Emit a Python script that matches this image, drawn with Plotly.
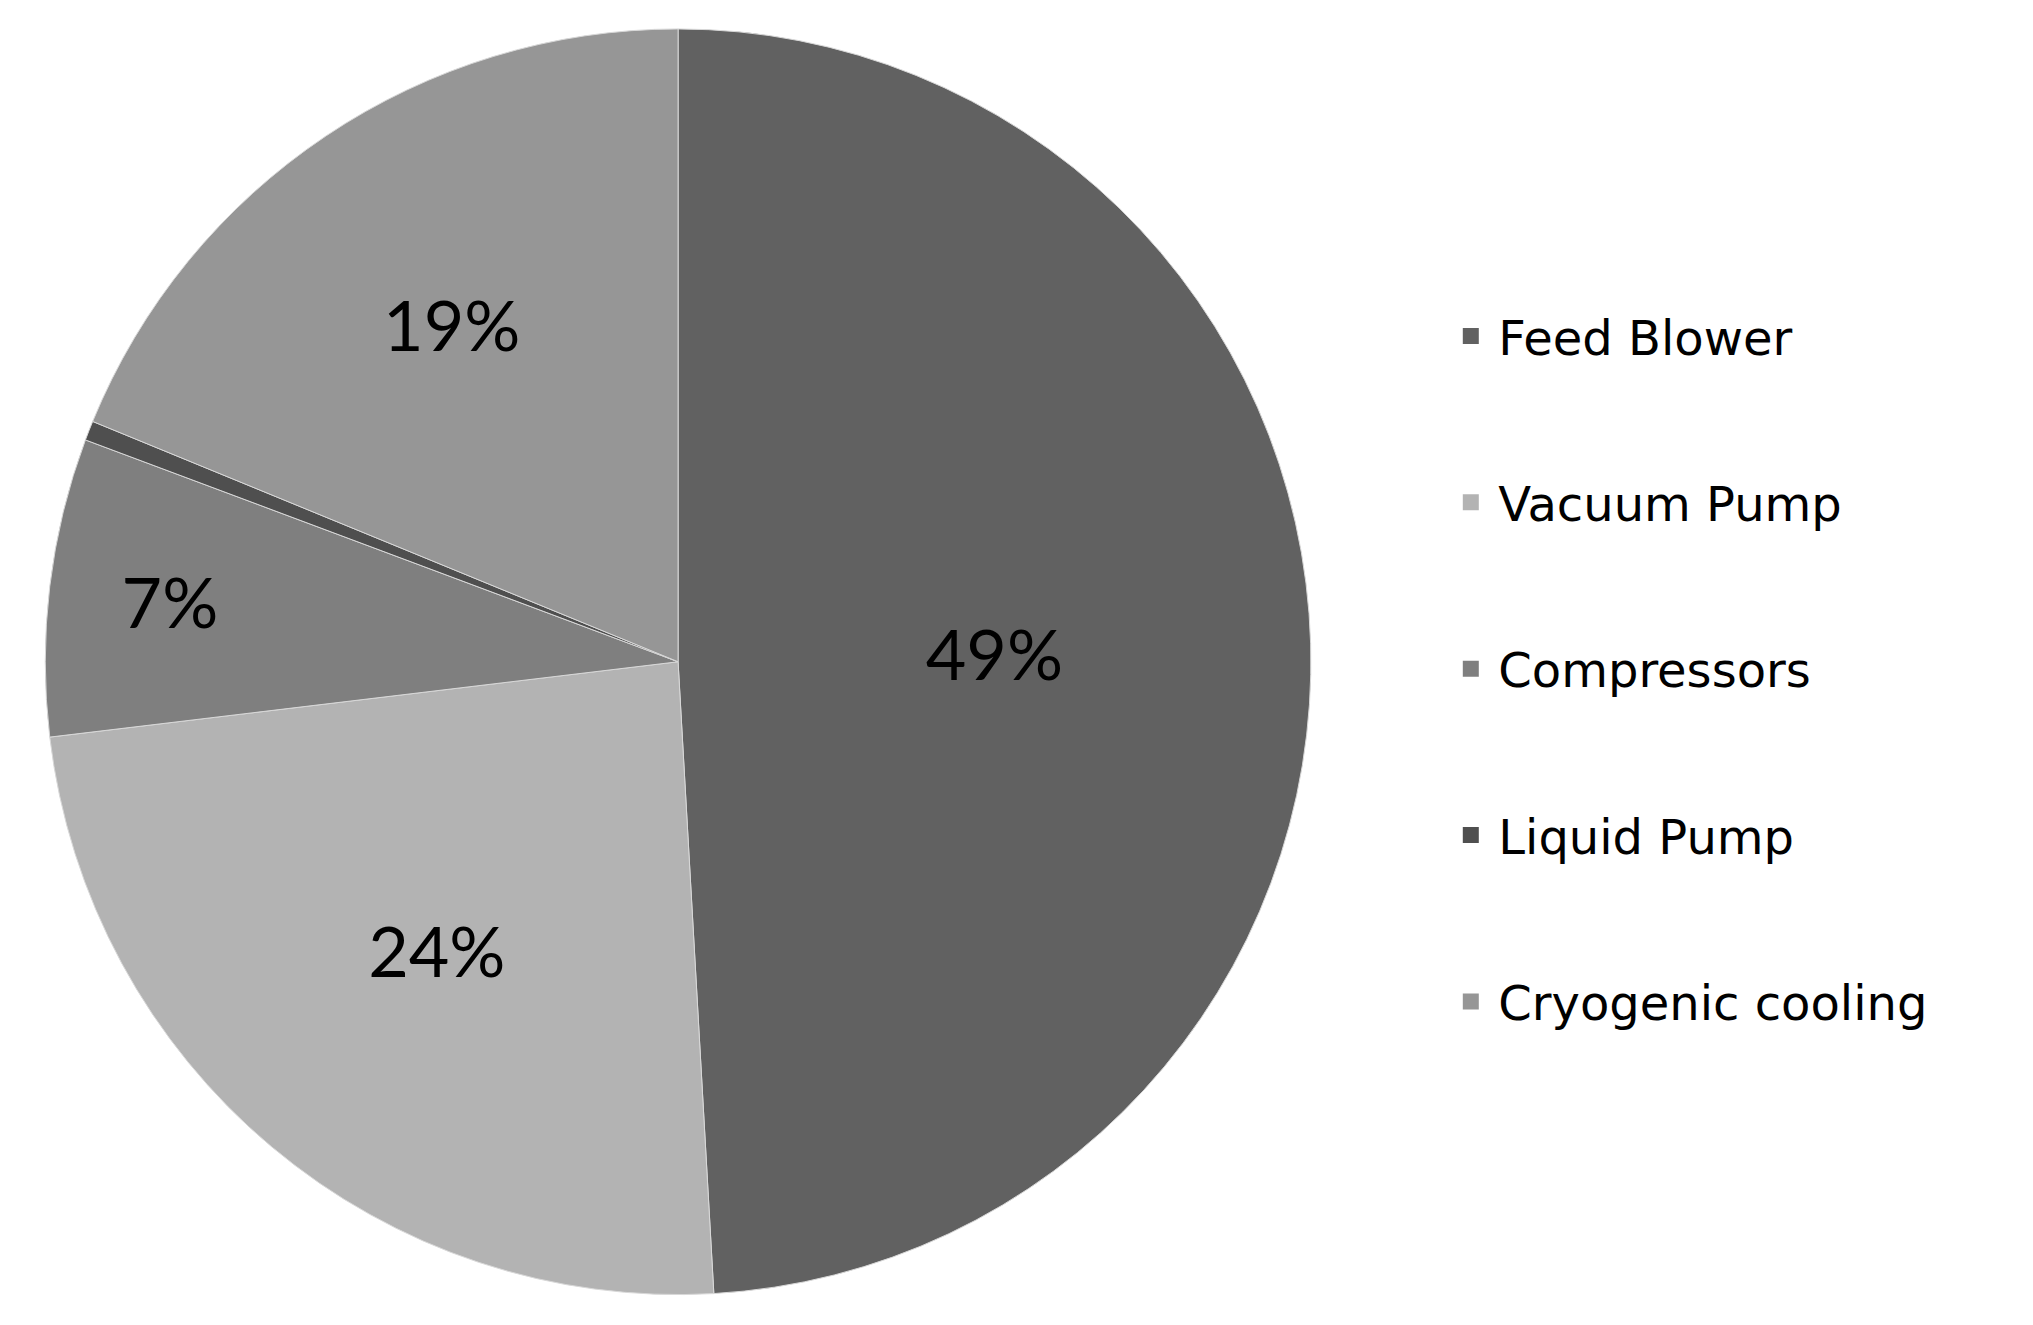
import plotly.graph_objects as go

categories = ["Feed Blower", "Vacuum Pump", "Compressors", "Liquid Pump", "Cryogenic cooling"]
values = [49.1, 24.0, 7.6, 0.5, 18.8]
slice_labels = ["49%", "24%", "7%", "", "19%"]
colors = ["#616161", "#b3b3b3", "#7f7f7f", "#4f4f4f", "#969696"]

fig = go.Figure()
fig.add_trace(go.Pie(
    labels=categories,
    values=values,
    text=slice_labels,
    textinfo="text",
    textposition="inside",
    insidetextorientation="horizontal",
    textfont=dict(family="Lato", size=70, color="black"),
    marker=dict(colors=colors, line=dict(color="#d8d8d8", width=1)),
    sort=False,
    direction="clockwise",
    rotation=0,
    showlegend=False,
    hoverinfo="label+percent",
    domain=dict(x=[0.0183, 0.6409], y=[0.0290, 0.9842]),
))

for cat, col in zip(categories, colors):
    fig.add_trace(go.Scatter(
        x=[None], y=[None], mode="markers",
        marker=dict(symbol="square", size=16, color=col),
        name=cat, legendgroup=cat, showlegend=True,
    ))

fig.update_layout(
    width=2033, height=1325,
    margin=dict(l=0, r=0, t=0, b=0),
    paper_bgcolor="white", plot_bgcolor="white",
    xaxis=dict(visible=False), yaxis=dict(visible=False),
    legend=dict(
        x=0.706, y=0.781, xanchor="left", yanchor="top",
        font=dict(family="DejaVu Sans", size=48, color="black"),
        tracegroupgap=101, itemsizing="trace", itemwidth=45,
        bgcolor="rgba(0,0,0,0)",
    ),
)

fig.write_html("out.html")
